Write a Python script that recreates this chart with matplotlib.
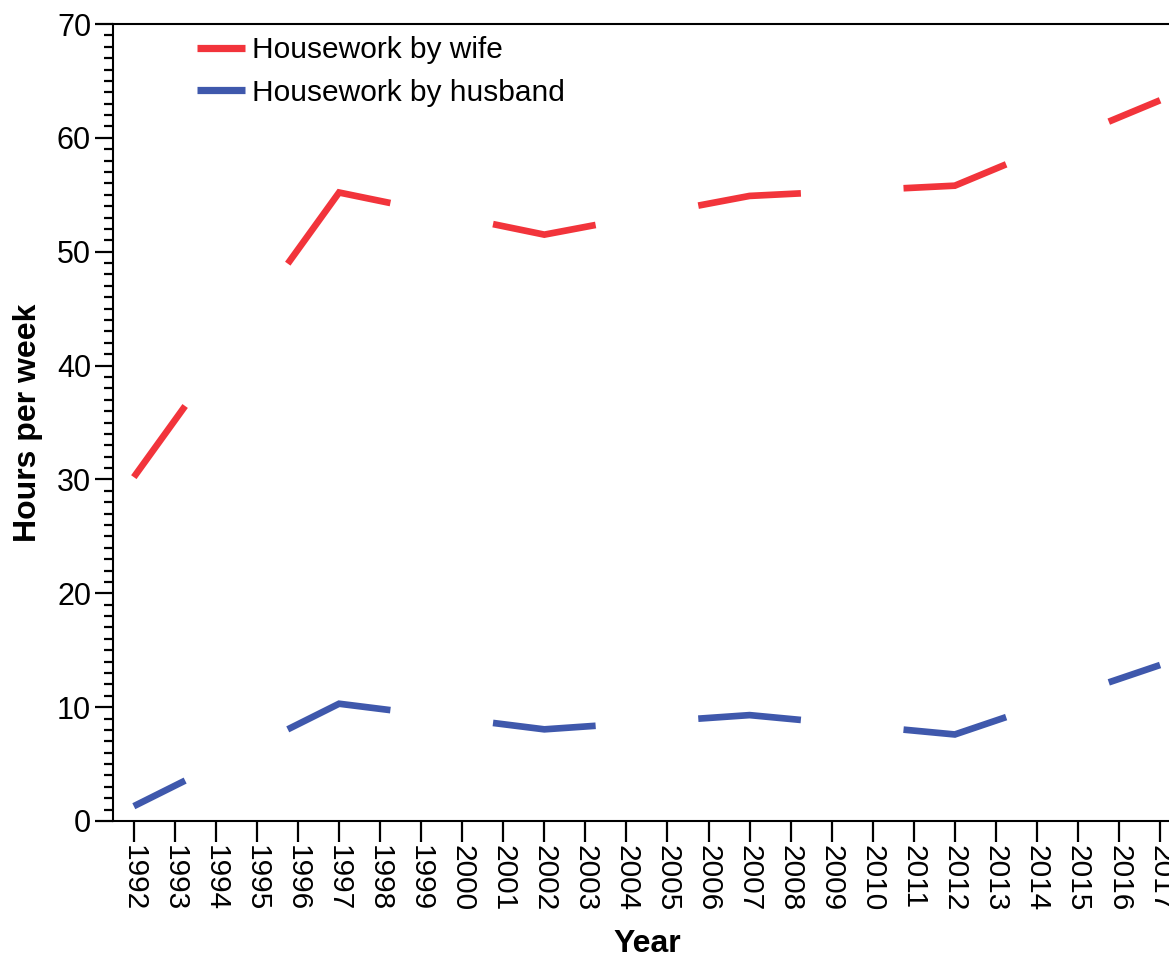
import numpy as np
import matplotlib
matplotlib.use("Agg")
import matplotlib.pyplot as plt
from matplotlib.ticker import MultipleLocator

plt.rcParams['font.family'] = ['Liberation Sans', 'DejaVu Sans']
plt.rcParams['lines.scale_dashes'] = False

# ---- data ----
years = [1992, 1997, 2002, 2007, 2012, 2017]
wife = [30.2, 55.2, 51.5, 54.9, 55.8, 63.3]
husband = [1.3, 10.3, 8.05, 9.3, 7.6, 13.7]
tick_years = list(range(1992, 2018))
series_names = ["Housework by wife", "Housework by husband"]
colors = ["#f2343b", "#3f58ac"]

W, H, DPI = 1169, 958, 100
fig = plt.figure(figsize=(W / DPI, H / DPI), dpi=DPI)
left_px, right_px, top_px, bot_px = 113.3, 1180.6, 24.0, 821.0
ax = fig.add_axes([left_px / W, 1 - bot_px / H, (right_px - left_px) / W, (bot_px - top_px) / H])
ax.set_xlim(1991.5, 2017.5)
ax.set_ylim(0, 70)

FS = 21.5
ax.set_xticks(tick_years)
ax.set_xticklabels([str(y) for y in tick_years], rotation=270, fontsize=FS)
ax.yaxis.set_major_locator(MultipleLocator(10))
ax.yaxis.set_minor_locator(MultipleLocator(1))
ax.tick_params(axis='y', which='major', length=13, width=1.6, labelsize=FS + 0.5, pad=3, direction='out')
ax.tick_params(axis='y', which='minor', length=6.5, width=1.6, direction='out')
ax.tick_params(axis='x', which='major', length=15, width=1.6, labelsize=FS, pad=2, direction='out')
for lab in ax.get_xticklabels():
    lab.set_verticalalignment('top')
    lab.set_horizontalalignment('center')
for s in ['left', 'bottom', 'top', 'right']:
    ax.spines[s].set_linewidth(1.5)

ax.set_ylabel("Hours per week", fontsize=23, fontweight='bold', labelpad=10)
ax.set_xlabel("Year", fontsize=23, fontweight='bold', labelpad=13)


def dash_pattern(xs, ys):
    pts = ax.transData.transform(np.column_stack([xs, ys]))
    seg = np.hypot(np.diff(pts[:, 0]), np.diff(pts[:, 1])) * 72.0 / DPI
    seq = []
    carry = 0.0
    for L in seg:
        seq.append(carry + L / 4)
        seq.append(L / 2)
        carry = L / 4
    seq.append(carry)
    seq.append(10000.0)
    return (0, tuple(seq))


handles = []
for vals, name, c in zip([wife, husband], series_names, colors):
    ln, = ax.plot(years, vals, color=c, lw=4.8, label=name,
                  linestyle=dash_pattern(years, vals),
                  dash_capstyle='butt', dash_joinstyle='miter')
    handles.append(plt.Line2D([], [], color=c, lw=5.2, solid_capstyle='butt'))

leg = ax.legend(handles, series_names, loc='upper left',
                bbox_to_anchor=(197 / W, 1 - 36 / H), bbox_transform=fig.transFigure,
                frameon=False, fontsize=FS, handlelength=1.6, handletextpad=0.25,
                labelspacing=0.5, borderpad=0, borderaxespad=0)

fig.savefig("out.png", dpi=DPI)
